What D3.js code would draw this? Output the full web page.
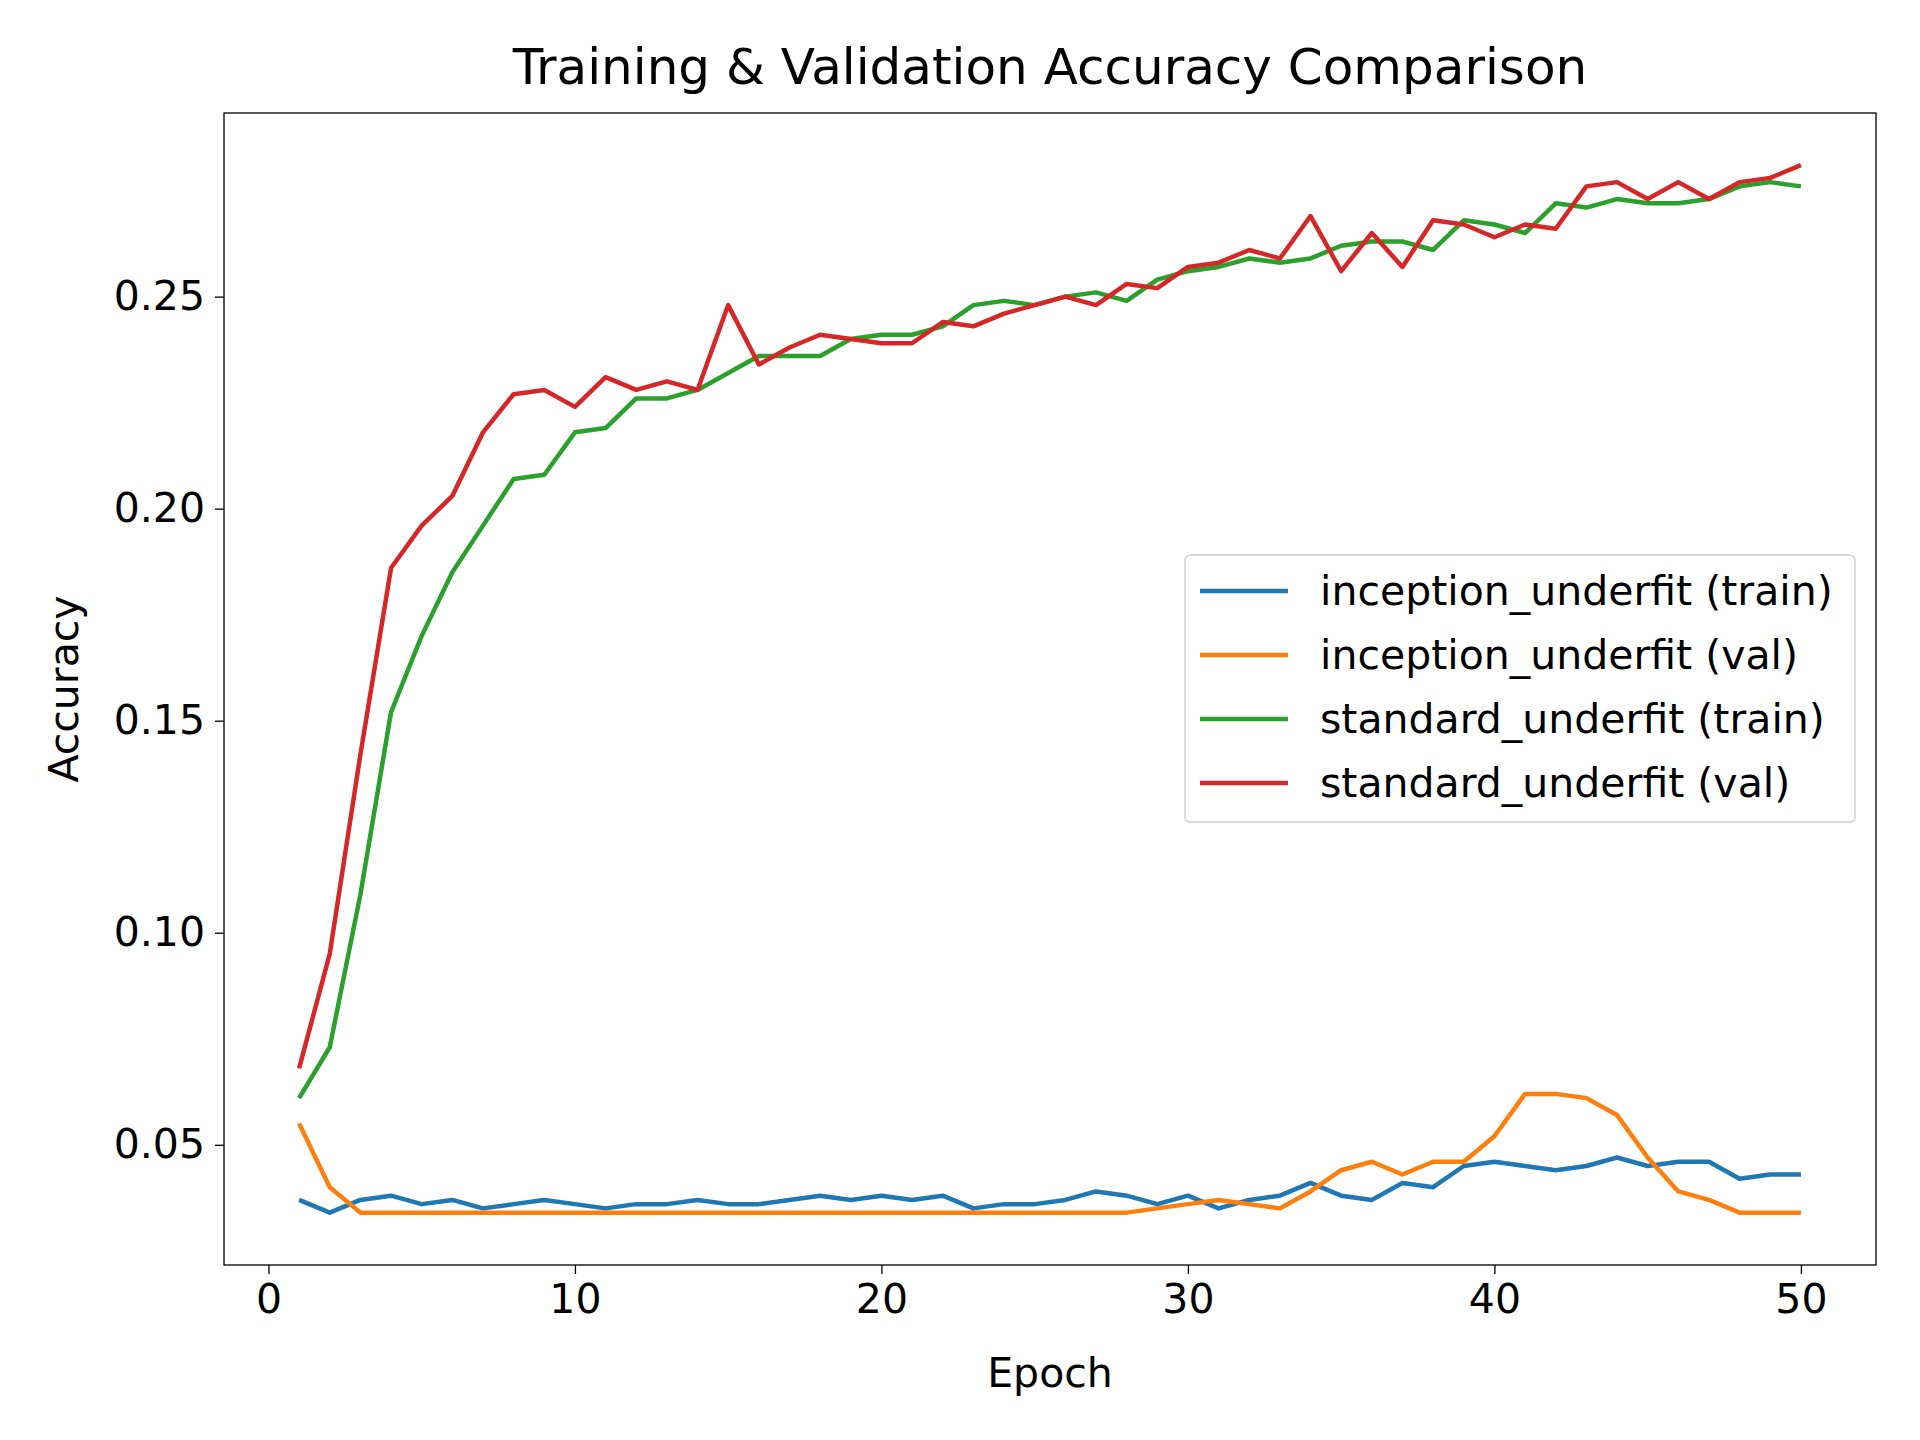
<!DOCTYPE html>
<html lang="en">
<head>
<meta charset="UTF-8">
<script src="https://d3js.org/d3.v7.min.js"></script>
<style>
  body { margin: 0; background: #fff; }
  text { font-family: "DejaVu Sans", sans-serif; fill: #000; }
</style>
</head>
<body>
<div id="chart"></div>
<script>
// data
var epochs = d3.range(1, 51);
var inceptionTrain = [.037,.034,.037,.038,.036,.037,.035,.036,.037,.036,.035,.036,.036,.037,.036,.036,.037,.038,.037,.038,
  .037,.038,.035,.036,.036,.037,.039,.038,.036,.038,.035,.037,.038,.041,.038,.037,.041,.040,.045,.046,
  .045,.044,.045,.047,.045,.046,.046,.042,.043,.043];
var inceptionVal = [.055,.040,.034,.034,.034,.034,.034,.034,.034,.034,.034,.034,.034,.034,.034,.034,.034,.034,.034,.034,
  .034,.034,.034,.034,.034,.034,.034,.034,.035,.036,.037,.036,.035,.039,.044,.046,.043,.046,.046,.052,
  .062,.062,.061,.057,.047,.039,.037,.034,.034,.034];
var standardTrain = [.061,.073,.109,.152,.170,.185,.196,.207,.208,.218,.219,.226,.226,.228,.232,.236,.236,.236,.240,.241,
  .241,.243,.248,.249,.248,.250,.251,.249,.254,.256,.257,.259,.258,.259,.262,.263,.263,.261,.268,.267,
  .265,.272,.271,.273,.272,.272,.273,.276,.277,.276];
var standardVal = [.068,.095,.142,.186,.196,.203,.218,.227,.228,.224,.231,.228,.230,.228,.248,.234,.238,.241,.240,.239,
  .239,.244,.243,.246,.248,.250,.248,.253,.252,.257,.258,.261,.259,.269,.256,.265,.257,.268,.267,.264,
  .267,.266,.276,.277,.273,.277,.273,.277,.278,.281];
var seriesNames = ["inception_underfit (train)", "inception_underfit (val)", "standard_underfit (train)", "standard_underfit (val)"];
var seriesColors = ["#1f77b4", "#ff7f0e", "#2ca02c", "#d62728"];
var xTicks = [0, 10, 20, 30, 40, 50];
var yTicks = [0.05, 0.10, 0.15, 0.20, 0.25];

var W = 1920, H = 1440;
var L = 224, R = 1876, T = 113, B = 1265;

var svg = d3.select("#chart").append("svg").attr("width", W).attr("height", H);

var x = d3.scaleLinear().domain([-1.45, 52.45]).range([L, R]);
var y = d3.scaleLinear().domain([0.02165, 0.2933]).range([B, T]);

// axes
var xAxis = svg.append("g").attr("transform", "translate(0," + B + ")")
  .call(d3.axisBottom(x).tickValues(xTicks).tickFormat(d3.format("d")).tickSize(9).tickPadding(10));
var yAxis = svg.append("g").attr("transform", "translate(" + L + ",0)")
  .call(d3.axisLeft(y).tickValues(yTicks).tickFormat(d3.format(".2f")).tickSize(9).tickPadding(10));
[xAxis, yAxis].forEach(function(a) {
  a.select(".domain").remove();
  a.selectAll("line").attr("stroke", "#000").attr("stroke-width", 1.3);
  a.selectAll("text").style("font-size", "41px").style("font-family", "DejaVu Sans");
});

// lines
var line = d3.line().x(function(d, i) { return x(epochs[i]); }).y(function(d) { return y(d); });
[inceptionTrain, inceptionVal, standardTrain, standardVal].forEach(function(s, i) {
  svg.append("path").datum(s).attr("d", line)
    .attr("fill", "none").attr("stroke", seriesColors[i]).attr("stroke-width", 4.5)
    .attr("stroke-linejoin", "round");
});

// frame
svg.append("rect").attr("x", L).attr("y", T).attr("width", R - L).attr("height", B - T)
  .attr("fill", "none").attr("stroke", "#000").attr("stroke-width", 1.3);

// labels
svg.append("text").attr("x", (L + R) / 2).attr("y", 84).attr("text-anchor", "middle")
  .style("font-size", "50px").text("Training & Validation Accuracy Comparison");
svg.append("text").attr("x", (L + R) / 2).attr("y", 1387).attr("text-anchor", "middle")
  .style("font-size", "41px").text("Epoch");
svg.append("text").attr("transform", "translate(78," + (T + B) / 2 + ") rotate(-90)")
  .attr("text-anchor", "middle").style("font-size", "41px").text("Accuracy");

// legend
var lg = svg.append("g");
lg.append("rect").attr("x", 1185).attr("y", 555).attr("width", 670).attr("height", 267).attr("rx", 5)
  .attr("fill", "#fff").attr("fill-opacity", 0.8).attr("stroke", "#ccc").attr("stroke-width", 1.3);
seriesNames.forEach(function(n, i) {
  var yy = 591 + i * 64;
  lg.append("line").attr("x1", 1200).attr("x2", 1288).attr("y1", yy).attr("y2", yy)
    .attr("stroke", seriesColors[i]).attr("stroke-width", 4.5);
  lg.append("text").attr("x", 1320).attr("y", yy + 14).style("font-size", "41px").text(n);
});
</script>
</body>
</html>
